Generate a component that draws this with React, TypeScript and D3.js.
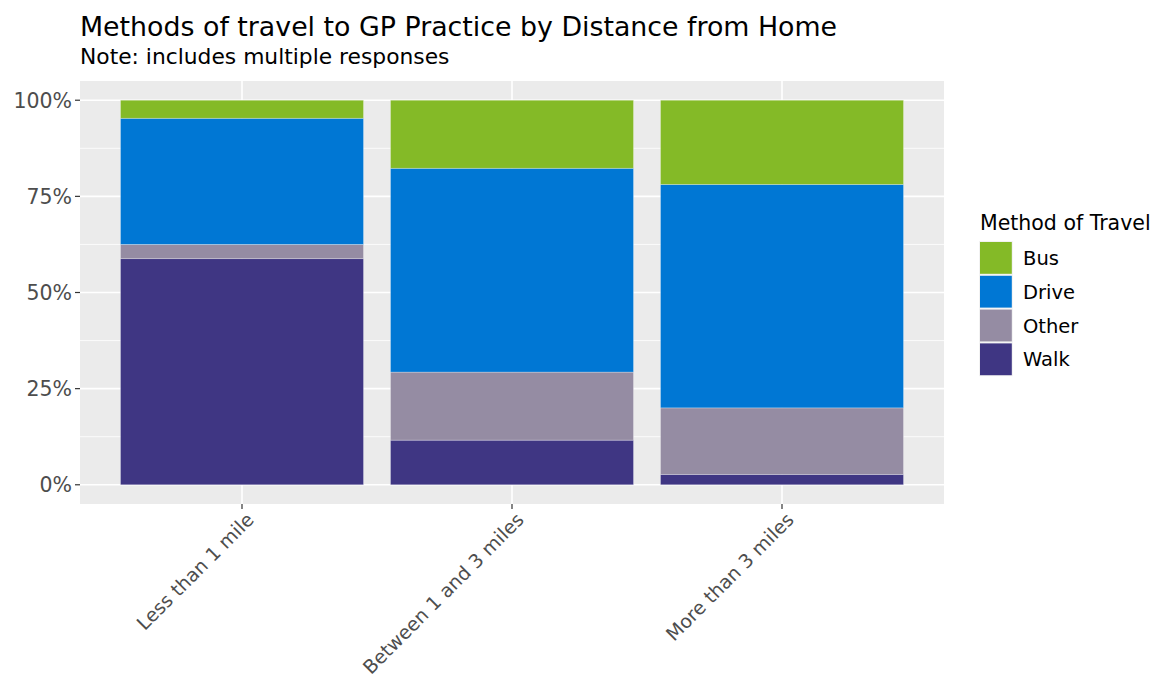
import React from "react";
import * as d3 from "d3";

const categories = ["Less than 1 mile", "Between 1 and 3 miles", "More than 3 miles"];
const methods = ["Walk", "Other", "Drive", "Bus"]; // stacking order bottom→top
const legendOrder = ["Bus", "Drive", "Other", "Walk"];
const walk = [58.8, 11.6, 2.7];
const other = [3.7, 17.7, 17.3];
const drive = [32.8, 53.0, 58.1];
const bus = [4.7, 17.7, 21.9];
const yTicks = [0, 0.25, 0.5, 0.75, 1];
const yMinor = [0.125, 0.375, 0.625, 0.875];
const colors: Record<string, string> = {
  Bus: "#84BA27",
  Drive: "#0077D4",
  Other: "#958CA3",
  Walk: "#3F3683",
};

const W = 1168, H = 680;
const panel = { left: 80, right: 944, top: 81, bottom: 504 };

export default function App() {
  const rows = categories.map((c, i) => ({
    cat: c,
    Walk: walk[i] / 100,
    Other: other[i] / 100,
    Drive: drive[i] / 100,
    Bus: bus[i] / 100,
  }));
  const stack = d3.stack<any>().keys(methods)(rows);
  // ggplot discrete scale: expand 0.6 units each side, bar width 0.9
  const x = d3.scalePoint().domain(categories).range([0, categories.length - 1]);
  const step = (panel.right - panel.left) / (categories.length + 0.2);
  const center = (c: string) => panel.left + step * (0.6 + (x(c) as number));
  const bw = step * 0.9;
  const y = d3.scaleLinear().domain([-0.05, 1.05]).range([panel.bottom, panel.top]);
  const font = "'DejaVu Sans', sans-serif";
  return (
    <svg width={W} height={H} style={{ display: "block", position: "absolute", left: 0, top: 0 }} fontFamily={font}>
      <rect x={0} y={0} width={W} height={H} fill="#fff" />
      <text x={80} y={36} fontSize={26.8} fill="#000">Methods of travel to GP Practice by Distance from Home</text>
      <text x={80} y={64} fontSize={21.8} fill="#000">Note: includes multiple responses</text>
      <rect x={panel.left} y={panel.top} width={panel.right - panel.left} height={panel.bottom - panel.top} fill="#EBEBEB" />
      {yMinor.map((t) => (
        <line key={"m" + t} x1={panel.left} x2={panel.right} y1={y(t)} y2={y(t)} stroke="#fff" strokeWidth={0.8} />
      ))}
      {yTicks.map((t) => (
        <line key={"g" + t} x1={panel.left} x2={panel.right} y1={y(t)} y2={y(t)} stroke="#fff" strokeWidth={1.6} />
      ))}
      {categories.map((c) => (
        <line key={"v" + c} x1={center(c)} x2={center(c)} y1={panel.top} y2={panel.bottom} stroke="#fff" strokeWidth={1.6} />
      ))}
      {stack.map((s) => (
        <g key={s.key}>
          {s.map((d: any, i: number) => (
            <rect
              key={i}
              x={center(categories[i]) - bw / 2}
              width={bw}
              y={y(d[1])}
              height={y(d[0]) - y(d[1])}
              fill={colors[s.key]}
              stroke="rgba(255,255,255,0.35)"
              strokeWidth={0.8}
            />
          ))}
        </g>
      ))}
      {yTicks.map((t) => (
        <g key={"yt" + t}>
          <line x1={panel.left - 5} x2={panel.left} y1={y(t)} y2={y(t)} stroke="#333" strokeWidth={1.2} />
          <text x={panel.left - 8} y={y(t)} dy="0.36em" textAnchor="end" fontSize={20.5} fill="#4D4D4D">
            {Math.round(t * 100) + "%"}
          </text>
        </g>
      ))}
      {categories.map((c) => (
        <g key={"xt" + c}>
          <line x1={center(c)} x2={center(c)} y1={panel.bottom} y2={panel.bottom + 5} stroke="#333" strokeWidth={1.2} />
          <text
            transform={`translate(${center(c) + 3},${panel.bottom + 7}) rotate(-45)`}
            textAnchor="end"
            dy="0.75em"
            fontSize={19}
            fill="#4D4D4D"
          >
            {c}
          </text>
        </g>
      ))}
      <text x={980} y={230} fontSize={20.5} fill="#000">Method of Travel</text>
      {legendOrder.map((m, i) => (
        <g key={"l" + m} transform={`translate(979,${241 + i * 33.8})`}>
          <rect x={0} y={0} width={33.8} height={33.8} fill="#F2F2F2" />
          <rect x={1} y={1} width={31.8} height={31.8} fill={colors[m]} />
          <text x={44} y={17} dy="0.36em" fontSize={19.5} fill="#000">{m}</text>
        </g>
      ))}
    </svg>
  );
}
